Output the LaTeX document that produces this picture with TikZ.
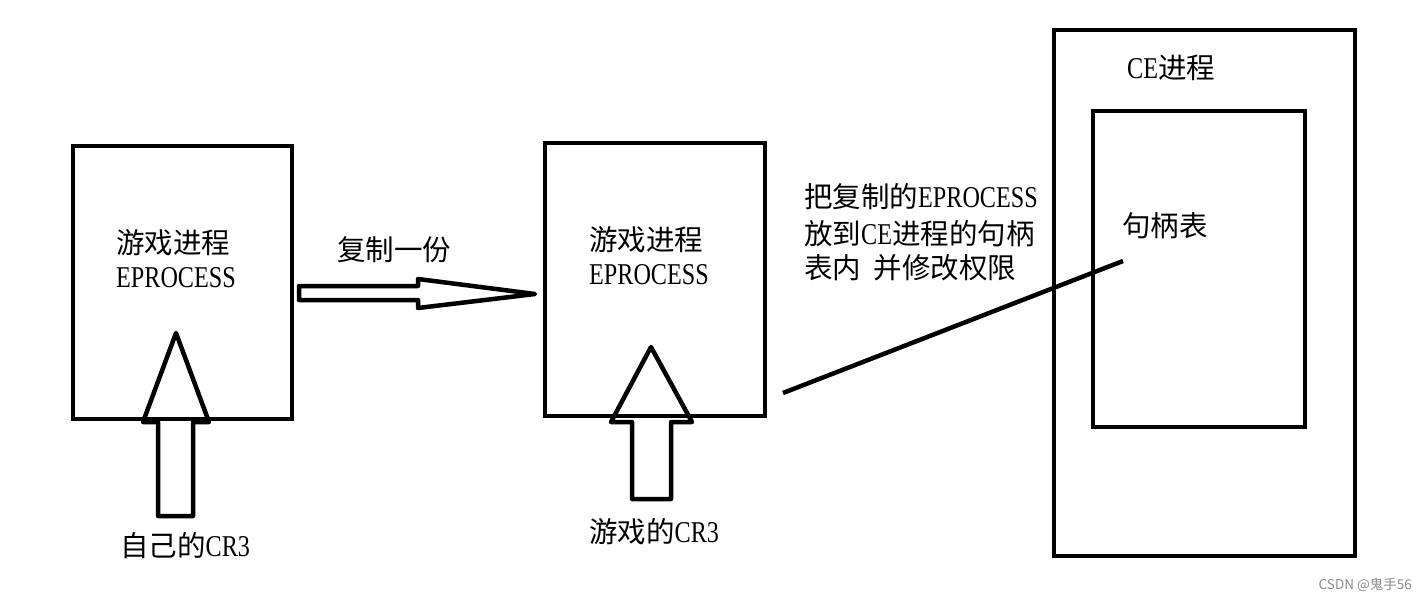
\documentclass[tikz,border=0pt]{standalone}
\usepackage{fontspec}
\setmainfont{Liberation Serif}[FakeStretch=0.80,Scale=1.06]
\newfontfamily\cjk{Noto Sans CJK SC}
\newcommand\zh[1]{{\cjk #1}}
\begin{document}
\begin{tikzpicture}[x=1pt,y=-1pt,
  box/.style={draw=black,line width=4.5pt},
  shapeline/.style={draw=black,line width=4.5pt,line join=round},
  lbl/.style={anchor=west,inner sep=0pt,font=\fontsize{28.5}{34}\selectfont},
  wm/.style={anchor=east,inner sep=0pt,text=black!45,font=\fontsize{13.5}{16}\selectfont\cjk}]
\useasboundingbox (0,0) rectangle (1427,602);
\fill[white] (0,0) rectangle (1427,602);
% boxes
\draw[box] (73,146) rectangle (292,419);
\draw[box] (545,143) rectangle (765,416);
\draw[box] (1054,30) rectangle (1355,556);
\draw[box] (1093,111) rectangle (1305,427);
% texts box 1
\node[lbl] (t1a) at (116,243) {\zh{游戏进程}};
\node[lbl] (t1b) at (116,278) {EPROCESS};
\node[lbl] (t1c) at (120,546) {\zh{自己的}CR3};
% texts box 2
\node[lbl] (t2a) at (589,240) {\zh{游戏进程}};
\node[lbl] (t2b) at (589,275) {EPROCESS};
\node[lbl] (t2c) at (589,532) {\zh{游戏的}CR3};
% copy arrow
\node[lbl] (tcp) at (337,250) {\zh{复制一份}};
\draw[shapeline] (299,286) -- (418,286) -- (418,279) -- (535,294) -- (418,308) -- (418,300) -- (299,300) -- cycle;
% up arrows
\draw[shapeline] (158,516) -- (158,422) -- (143,422) -- (176,333) -- (209,422) -- (193,422) -- (193,516) -- cycle;
\draw[shapeline] (632,499) -- (632,422) -- (611,422) -- (651,347) -- (692,422) -- (671,422) -- (671,499) -- cycle;
% paragraph
\node[lbl] (p1) at (804,197) {\zh{把复制的}EPROCESS};
\node[lbl] (p2) at (804,234) {\zh{放到}CE\zh{进程的句柄}};
\node[lbl] (p3) at (804,268) {\zh{表内\ \ 并修改权限}};
% CE
\node[lbl] (tce) at (1127,68) {CE\zh{进程}};
\node[lbl] (tht) at (1122,226) {\zh{句柄表}};
% connector line
\coordinate (ls) at (783,393);
\coordinate (le) at (1123,261);
\draw[black,line width=4.5pt] (ls) -- (le);
% watermark
\node[wm] (wmk) at (1412,585) {CSDN @鬼手56};
\end{tikzpicture}
\end{document}
